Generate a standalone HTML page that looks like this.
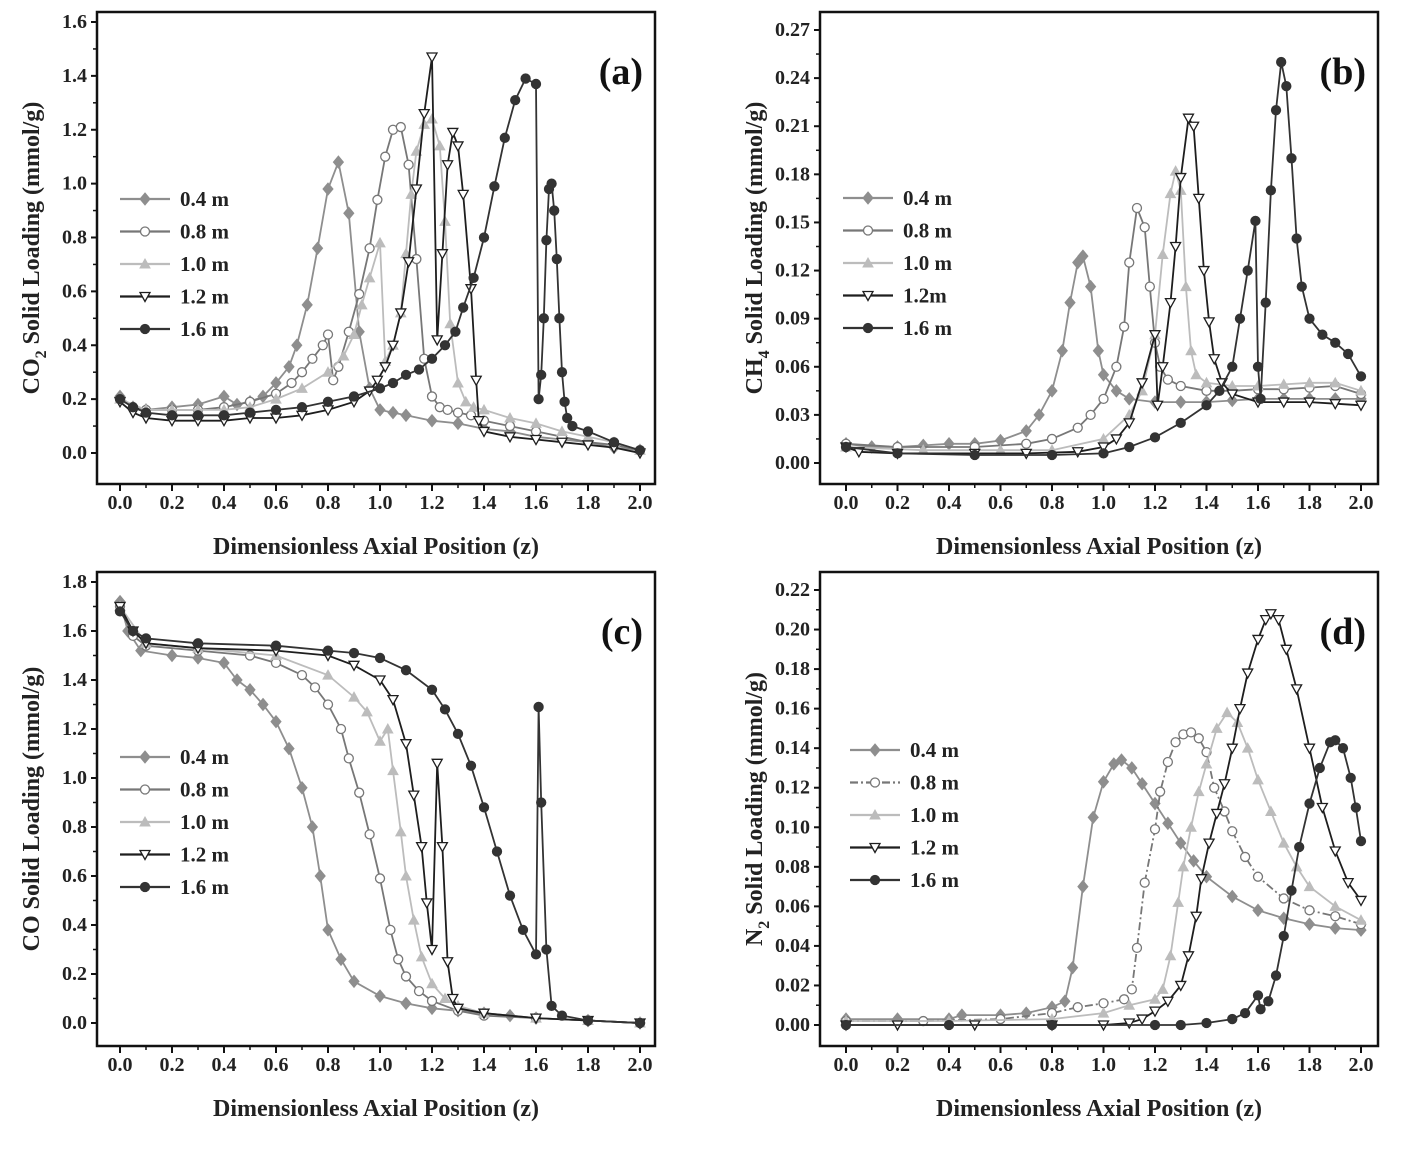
<!DOCTYPE html>
<html><head><meta charset="utf-8"><style>
body{margin:0;background:#fff;}
svg{display:block;font-family:"Liberation Serif",serif;}
</style></head><body>
<svg id="chart" width="1417" height="1152" viewBox="0 0 1417 1152" xmlns="http://www.w3.org/2000/svg"></svg>
<script>
const xTicks=[0,0.2,0.4,0.6,0.8,1.0,1.2,1.4,1.6,1.8,2.0];
const seriesNames=["0.4 m","0.8 m","1.0 m","1.2 m","1.6 m"];
const seriesNamesB=["0.4 m","0.8 m","1.0 m","1.2m","1.6 m"];
const yTicksA=[0,0.2,0.4,0.6,0.8,1.0,1.2,1.4,1.6];
const yTicksB=[0,0.03,0.06,0.09,0.12,0.15,0.18,0.21,0.24,0.27];
const yTicksC=[0,0.2,0.4,0.6,0.8,1.0,1.2,1.4,1.6,1.8];
const yTicksD=[0,0.02,0.04,0.06,0.08,0.10,0.12,0.14,0.16,0.18,0.20,0.22];
// Panel a (CO2)
const a04=[[0,0.21],[0.05,0.17],[0.1,0.16],[0.2,0.17],[0.3,0.18],[0.4,0.21],[0.45,0.18],[0.5,0.19],[0.55,0.21],[0.6,0.26],[0.65,0.32],[0.68,0.40],[0.72,0.55],[0.76,0.76],[0.8,0.98],[0.84,1.08],[0.88,0.89],[0.92,0.45],[0.96,0.24],[1.0,0.16],[1.05,0.15],[1.1,0.14],[1.2,0.12],[1.3,0.11],[1.4,0.09],[1.5,0.08],[1.6,0.06],[1.7,0.05],[1.8,0.04],[1.9,0.02],[2.0,0.01]];
const a08=[[0,0.2],[0.05,0.17],[0.1,0.16],[0.2,0.16],[0.3,0.16],[0.4,0.17],[0.5,0.19],[0.6,0.22],[0.66,0.26],[0.7,0.30],[0.74,0.35],[0.78,0.40],[0.8,0.44],[0.82,0.27],[0.84,0.32],[0.88,0.45],[0.92,0.59],[0.96,0.76],[0.99,0.94],[1.02,1.1],[1.05,1.2],[1.08,1.21],[1.11,1.07],[1.14,0.72],[1.17,0.35],[1.2,0.21],[1.23,0.17],[1.26,0.16],[1.3,0.15],[1.35,0.14],[1.4,0.12],[1.5,0.10],[1.6,0.08],[1.7,0.06],[1.8,0.04],[1.9,0.03],[2.0,0.01]];
const a10=[[0,0.2],[0.1,0.16],[0.2,0.16],[0.3,0.16],[0.4,0.16],[0.5,0.17],[0.6,0.2],[0.7,0.24],[0.8,0.3],[0.86,0.36],[0.9,0.44],[0.93,0.55],[0.96,0.65],[1.0,0.78],[1.02,0.34],[1.05,0.40],[1.08,0.52],[1.1,0.74],[1.12,0.96],[1.14,1.12],[1.17,1.22],[1.2,1.24],[1.23,1.14],[1.25,0.86],[1.27,0.48],[1.3,0.26],[1.33,0.19],[1.36,0.17],[1.4,0.16],[1.5,0.13],[1.6,0.11],[1.7,0.08],[1.8,0.06],[1.9,0.04],[2.0,0.01]];
const a12=[[0,0.19],[0.05,0.15],[0.1,0.13],[0.2,0.12],[0.3,0.12],[0.4,0.12],[0.5,0.13],[0.6,0.13],[0.7,0.14],[0.8,0.16],[0.9,0.19],[0.96,0.23],[0.99,0.27],[1.02,0.32],[1.05,0.40],[1.08,0.52],[1.11,0.71],[1.14,0.98],[1.17,1.26],[1.2,1.47],[1.22,0.42],[1.24,0.74],[1.26,1.07],[1.28,1.19],[1.3,1.14],[1.32,0.96],[1.35,0.61],[1.37,0.27],[1.38,0.12],[1.4,0.08],[1.5,0.06],[1.6,0.05],[1.7,0.04],[1.8,0.03],[1.9,0.02],[2.0,0.0]];
const a16=[[0,0.2],[0.05,0.17],[0.1,0.15],[0.2,0.14],[0.3,0.14],[0.4,0.14],[0.5,0.15],[0.6,0.16],[0.7,0.17],[0.8,0.19],[0.9,0.21],[1.0,0.24],[1.05,0.26],[1.1,0.29],[1.15,0.31],[1.2,0.35],[1.25,0.40],[1.29,0.45],[1.32,0.54],[1.36,0.65],[1.4,0.8],[1.44,0.99],[1.48,1.17],[1.52,1.31],[1.56,1.39],[1.6,1.37],[1.61,0.20],[1.62,0.29],[1.63,0.50],[1.64,0.79],[1.65,0.98],[1.66,1.0],[1.67,0.9],[1.68,0.72],[1.69,0.50],[1.7,0.30],[1.71,0.19],[1.72,0.13],[1.74,0.10],[1.8,0.08],[1.9,0.04],[2.0,0.01]];
// Panel b (CH4)
const b04=[[0,0.012],[0.1,0.01],[0.2,0.01],[0.3,0.011],[0.4,0.012],[0.5,0.012],[0.6,0.014],[0.7,0.02],[0.75,0.03],[0.8,0.045],[0.84,0.07],[0.87,0.1],[0.9,0.125],[0.92,0.129],[0.95,0.11],[0.98,0.07],[1.0,0.055],[1.05,0.045],[1.1,0.04],[1.2,0.038],[1.3,0.038],[1.4,0.038],[1.5,0.039],[1.6,0.04],[1.7,0.04],[1.8,0.04],[1.9,0.04],[2.0,0.04]];
const b08=[[0,0.012],[0.2,0.01],[0.5,0.01],[0.7,0.012],[0.8,0.015],[0.9,0.022],[0.95,0.03],[1.0,0.04],[1.05,0.06],[1.08,0.085],[1.1,0.125],[1.13,0.159],[1.16,0.147],[1.18,0.11],[1.2,0.075],[1.22,0.06],[1.25,0.052],[1.3,0.048],[1.4,0.045],[1.5,0.045],[1.6,0.046],[1.7,0.046],[1.8,0.047],[1.9,0.048],[2.0,0.043]];
const b10=[[0,0.01],[0.3,0.008],[0.6,0.008],[0.8,0.008],[1.0,0.015],[1.1,0.03],[1.15,0.045],[1.2,0.08],[1.23,0.13],[1.26,0.168],[1.28,0.182],[1.3,0.17],[1.32,0.11],[1.34,0.07],[1.36,0.055],[1.4,0.05],[1.5,0.048],[1.6,0.048],[1.7,0.049],[1.8,0.05],[1.9,0.05],[2.0,0.045]];
const b12=[[0,0.01],[0.05,0.007],[0.2,0.006],[0.5,0.006],[0.7,0.006],[0.9,0.007],[1.0,0.01],[1.05,0.015],[1.1,0.025],[1.15,0.05],[1.2,0.08],[1.21,0.036],[1.23,0.06],[1.26,0.1],[1.28,0.135],[1.3,0.178],[1.33,0.215],[1.35,0.21],[1.37,0.165],[1.39,0.12],[1.41,0.088],[1.43,0.065],[1.46,0.05],[1.5,0.043],[1.6,0.038],[1.7,0.038],[1.8,0.038],[1.9,0.037],[2.0,0.036]];
const b16=[[0,0.01],[0.2,0.006],[0.5,0.005],[0.8,0.005],[1.0,0.006],[1.1,0.01],[1.2,0.016],[1.3,0.025],[1.4,0.036],[1.45,0.045],[1.5,0.06],[1.53,0.09],[1.56,0.12],[1.59,0.151],[1.6,0.06],[1.61,0.04],[1.63,0.1],[1.65,0.17],[1.67,0.22],[1.69,0.25],[1.71,0.235],[1.73,0.19],[1.75,0.14],[1.77,0.11],[1.8,0.09],[1.85,0.08],[1.9,0.075],[1.95,0.068],[2.0,0.054]];
// Panel c (CO)
const c04=[[0,1.72],[0.03,1.6],[0.08,1.52],[0.2,1.5],[0.3,1.49],[0.4,1.47],[0.45,1.4],[0.5,1.36],[0.55,1.3],[0.6,1.23],[0.65,1.12],[0.7,0.96],[0.74,0.8],[0.77,0.6],[0.8,0.38],[0.85,0.26],[0.9,0.17],[1.0,0.11],[1.1,0.08],[1.2,0.06],[1.3,0.05],[1.4,0.04],[1.5,0.03],[1.6,0.02],[1.8,0.01],[2.0,0.0]];
const c08=[[0,1.7],[0.05,1.58],[0.1,1.54],[0.3,1.52],[0.5,1.5],[0.6,1.47],[0.7,1.42],[0.75,1.37],[0.8,1.3],[0.85,1.2],[0.88,1.08],[0.92,0.94],[0.96,0.77],[1.0,0.59],[1.04,0.38],[1.07,0.26],[1.1,0.19],[1.15,0.13],[1.2,0.09],[1.3,0.05],[1.4,0.03],[1.6,0.02],[1.8,0.01],[2.0,0.0]];
const c10=[[0,1.7],[0.1,1.55],[0.3,1.53],[0.6,1.5],[0.8,1.42],[0.9,1.33],[0.95,1.27],[1.0,1.15],[1.03,1.2],[1.05,1.03],[1.08,0.78],[1.1,0.6],[1.13,0.42],[1.16,0.27],[1.2,0.16],[1.25,0.1],[1.3,0.07],[1.4,0.04],[1.6,0.02],[1.8,0.01],[2.0,0.0]];
const c12=[[0,1.7],[0.05,1.6],[0.1,1.55],[0.3,1.53],[0.6,1.52],[0.8,1.5],[0.9,1.46],[1.0,1.4],[1.05,1.32],[1.1,1.14],[1.13,0.93],[1.16,0.72],[1.18,0.49],[1.2,0.3],[1.22,1.06],[1.24,0.72],[1.26,0.25],[1.28,0.1],[1.3,0.06],[1.4,0.04],[1.6,0.02],[1.8,0.01],[2.0,0.0]];
const c16=[[0,1.68],[0.05,1.6],[0.1,1.57],[0.3,1.55],[0.6,1.54],[0.8,1.52],[0.9,1.51],[1.0,1.49],[1.1,1.44],[1.2,1.36],[1.25,1.28],[1.3,1.18],[1.35,1.05],[1.4,0.88],[1.45,0.7],[1.5,0.52],[1.55,0.38],[1.6,0.28],[1.61,1.29],[1.62,0.9],[1.64,0.3],[1.66,0.07],[1.7,0.03],[1.8,0.01],[2.0,0.0]];
// Panel d (N2)
const d04=[[0,0.003],[0.2,0.003],[0.4,0.003],[0.45,0.005],[0.6,0.005],[0.7,0.006],[0.8,0.009],[0.85,0.012],[0.88,0.029],[0.92,0.07],[0.96,0.105],[1.0,0.123],[1.04,0.132],[1.07,0.134],[1.11,0.13],[1.15,0.122],[1.2,0.112],[1.25,0.102],[1.3,0.092],[1.35,0.083],[1.4,0.075],[1.5,0.065],[1.6,0.058],[1.7,0.054],[1.8,0.051],[1.9,0.049],[2.0,0.048]];
const d08=[[0,0.002],[0.3,0.002],[0.6,0.003],[0.8,0.006],[0.9,0.009],[1.0,0.011],[1.08,0.013],[1.11,0.018],[1.13,0.039],[1.16,0.072],[1.2,0.099],[1.22,0.118],[1.25,0.133],[1.28,0.143],[1.31,0.147],[1.34,0.148],[1.37,0.145],[1.4,0.138],[1.43,0.12],[1.47,0.108],[1.5,0.098],[1.55,0.085],[1.6,0.075],[1.7,0.064],[1.8,0.058],[1.9,0.055],[2.0,0.051]];
const d10=[[0,0.002],[0.4,0.002],[0.8,0.003],[1.0,0.006],[1.1,0.01],[1.2,0.013],[1.23,0.018],[1.26,0.035],[1.29,0.062],[1.31,0.08],[1.34,0.1],[1.37,0.118],[1.4,0.132],[1.44,0.15],[1.48,0.158],[1.52,0.153],[1.56,0.14],[1.6,0.124],[1.65,0.108],[1.7,0.092],[1.75,0.08],[1.8,0.07],[1.9,0.06],[2.0,0.053]];
const d12=[[0,0.0],[0.2,0.0],[0.5,0.0],[0.8,0.0],[1.0,0.0],[1.1,0.001],[1.15,0.003],[1.2,0.007],[1.25,0.012],[1.3,0.02],[1.33,0.035],[1.36,0.055],[1.38,0.074],[1.41,0.092],[1.44,0.107],[1.47,0.122],[1.5,0.14],[1.53,0.16],[1.56,0.178],[1.6,0.195],[1.63,0.205],[1.65,0.208],[1.68,0.205],[1.71,0.19],[1.75,0.17],[1.8,0.14],[1.85,0.11],[1.9,0.088],[1.95,0.072],[2.0,0.063]];
const d16=[[0,0.0],[0.4,0.0],[0.8,0.0],[1.2,0.0],[1.3,0.0],[1.4,0.001],[1.5,0.003],[1.55,0.006],[1.6,0.015],[1.61,0.008],[1.64,0.012],[1.67,0.025],[1.7,0.045],[1.73,0.068],[1.76,0.09],[1.8,0.112],[1.84,0.13],[1.88,0.143],[1.9,0.144],[1.93,0.14],[1.96,0.125],[1.98,0.11],[2.0,0.093]];

const NS="http://www.w3.org/2000/svg";
const svg=document.getElementById('chart');
function mk(tag,attrs,parent){const e=document.createElementNS(NS,tag);for(const k in attrs)e.setAttribute(k,attrs[k]);(parent||svg).appendChild(e);return e;}
const styles=[
 {color:"#8e8e8e",marker:"diamond",fill:"#8e8e8e"},
 {color:"#777",marker:"circle",fill:"#fff"},
 {color:"#bcbcbc",marker:"tri",fill:"#bcbcbc"},
 {color:"#1e1e1e",marker:"dtri",fill:"#fff"},
 {color:"#333",marker:"circle",fill:"#333"}];
function marker(g,kind,x,y,st,name){
  let e;const r=5;
  if(kind==="circle")e=mk('circle',{cx:x,cy:y,r:r-0.5,fill:st.fill,stroke:st.color,'stroke-width':1.3},g);
  else if(kind==="diamond")e=mk('polygon',{points:`${x},${y-r-1} ${x+r},${y} ${x},${y+r+1} ${x-r},${y}`,fill:st.fill,stroke:st.color,'stroke-width':1},g);
  else if(kind==="tri")e=mk('polygon',{points:`${x},${y-r} ${x+r},${y+r*0.8} ${x-r},${y+r*0.8}`,fill:st.fill,stroke:st.color,'stroke-width':1},g);
  else e=mk('polygon',{points:`${x-r},${y-r*0.8} ${x+r},${y-r*0.8} ${x},${y+r}`,fill:st.fill,stroke:st.color,'stroke-width':1.3},g);
  
  
}
function panel(p){
  const g=mk('g',{});
  
  
  const X=v=>p.x0+(v-0)/(2)*(p.x1-p.x0);
  const Y=v=>p.y0+(v-0)/(p.ymax)*(p.y1-p.y0);
  const fr=mk('rect',{x:p.fl,y:p.ft,width:p.fr-p.fl,height:p.fb-p.ft,fill:"none",stroke:"#111",'stroke-width':2.5},g);
  
  
  xTicks.forEach((t,i)=>{
    const x=X(t);
    mk('line',{x1:x,x2:x,y1:p.fb,y2:p.fb+7,stroke:"#111",'stroke-width':2},g);
    if(i<xTicks.length-1){const xm=X(t+0.1);mk('line',{x1:xm,x2:xm,y1:p.fb,y2:p.fb+4,stroke:"#111",'stroke-width':1.5},g);}
    const tx=mk('text',{x:x,y:p.fb+25,'text-anchor':'middle','font-size':20,'font-weight':'bold',fill:"#222"},g);
    tx.textContent=t.toFixed(1);
    
    
  });
  p.yTicks.forEach((t,i)=>{
    const y=Y(t);
    mk('line',{x1:p.fl-6,x2:p.fl,y1:y,y2:y,stroke:"#111",'stroke-width':2},g);
    if(i<p.yTicks.length-1){const ym=(y+Y(p.yTicks[i+1]))/2;mk('line',{x1:p.fl-4,x2:p.fl,y1:ym,y2:ym,stroke:"#111",'stroke-width':1.5},g);}
    const tx=mk('text',{x:p.fl-10,y:y+6,'text-anchor':'end','font-size':20,'font-weight':'bold',fill:"#222"},g);
    tx.textContent=t.toFixed(p.dec);
    
    
  });
  const xt=mk('text',{x:(p.fl+p.fr)/2,y:p.fb+70,'text-anchor':'middle','font-size':24,'font-weight':'bold',fill:"#222"},g);
  xt.textContent="Dimensionless Axial Position (z)";
  
  
  const yc=(p.ft+p.fb)/2, yx=p.fl-58;
  const yt=mk('text',{x:yx,y:yc,'text-anchor':'middle','font-size':24,'font-weight':'bold',fill:"#222",transform:`rotate(-90 ${yx} ${yc})`},g);
  yt.innerHTML=p.ylab;
  
  
  const pl=mk('text',{x:p.fr-12,y:p.ft+72,'text-anchor':'end','font-size':38,'font-weight':'bold',fill:"#111"},g);
  pl.textContent=p.label;
  
  
  p.series.forEach((s,si)=>{
    const st=styles[si];
    const sg=mk('g',{},g);
    
    
    const d=s.map((pt,i)=>(i?'L':'M')+X(pt[0]).toFixed(1)+','+Y(pt[1]).toFixed(1)).join('');
    const ln=mk('path',{d:d,fill:'none',stroke:st.color,'stroke-width':1.8,'stroke-dasharray':(p.id==='d'&&si===1)?'8,3,2,3':''},sg);
    
    
    s.forEach(pt=>marker(sg,st.marker,X(pt[0]),Y(pt[1]),st,'data-point'));
  });
  p.legNames.forEach((n,i)=>{
    const st=styles[i];const y=p.ly+i*32.5;
    const lg=mk('g',{},g);
    
    
    mk('line',{x1:p.lx,x2:p.lx+50,y1:y,y2:y,stroke:st.color,'stroke-width':2.2,'stroke-dasharray':(p.id==='d'&&i===1)?'8,3,2,3':''},lg);
    marker(lg,st.marker,p.lx+25,y,st,'legend-marker');
    const t=mk('text',{x:p.lx+60,y:y+7,'font-size':21,'font-weight':'bold',fill:"#222"},lg);
    t.textContent=n;
  });
}
panel({id:'a',label:'(a)',fl:97,fr:655,ft:12,fb:484,x0:120,x1:640,y0:453,y1:22,ymax:1.6,yTicks:yTicksA,dec:1,
  ylab:'CO<tspan dy="7" font-size="16">2</tspan><tspan dy="-7"> Solid Loading (mmol/g)</tspan>',series:[a04,a08,a10,a12,a16],legNames:seriesNames,lx:120,ly:199});
panel({id:'b',label:'(b)',fl:820,fr:1378,ft:12,fb:484,x0:846,x1:1361,y0:463,y1:30,ymax:0.27,yTicks:yTicksB,dec:2,
  ylab:'CH<tspan dy="7" font-size="16">4</tspan><tspan dy="-7"> Solid Loading (mmol/g)</tspan>',series:[b04,b08,b10,b12,b16],legNames:seriesNamesB,lx:843,ly:198});
panel({id:'c',label:'(c)',fl:97,fr:655,ft:572,fb:1046,x0:120,x1:640,y0:1023,y1:582,ymax:1.8,yTicks:yTicksC,dec:1,
  ylab:'CO Solid Loading (mmol/g)',series:[c04,c08,c10,c12,c16],legNames:seriesNames,lx:120,ly:757});
panel({id:'d',label:'(d)',fl:820,fr:1378,ft:572,fb:1046,x0:846,x1:1361,y0:1025,y1:590,ymax:0.22,yTicks:yTicksD,dec:2,
  ylab:'N<tspan dy="7" font-size="16">2</tspan><tspan dy="-7"> Solid Loading (mmol/g)</tspan>',series:[d04,d08,d10,d12,d16],legNames:seriesNames,lx:850,ly:750});
</script>
</body></html>
